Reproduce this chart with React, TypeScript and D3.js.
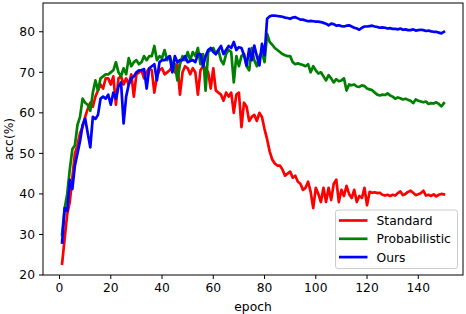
import React from 'react';
import * as d3 from 'd3';

// accuracy per epoch (1..150)
const standard = [
  22.8, 29, 35, 38, 44, 50, 52, 55, 56.5, 59, 61, 62.5, 61.5, 64, 65.5, 67, 66, 68.5, 68.5, 67,
  69, 62, 68.5, 69, 67, 68.5, 67, 69.5, 64, 69.5, 70, 70.5, 68.5, 70, 71, 70.5, 65, 69, 70.5, 71,
  69.5, 70, 70.5, 71.5, 70, 72, 64.5, 70, 71.5, 71, 69.5, 71, 70, 64.5, 70.5, 71.5, 71, 70, 66, 71,
  65.5, 65, 64.5, 63, 65, 64, 65, 60, 64.5, 65, 56.5, 62.5, 61.5, 58, 59, 59.5, 58, 60, 59, 56,
  53.5, 50.5, 48.5, 47.5, 47, 47, 46, 44.5, 45, 45.5, 44, 44.5, 43, 42.5, 41, 41.5, 43, 40.5, 36.5, 41.5,
  40, 38, 41.5, 38, 41.5, 38.5, 42.5, 43.5, 38, 41, 39.5, 42, 40, 39, 41, 38, 39.5, 39, 41.5, 37.2,
  40.5, 40.3, 40.4, 40.2, 40.3, 39.8, 39.6, 39.8, 39.5, 39.8, 39.6, 40.2, 40.6, 39.7, 40, 40.5, 40.8, 40.3, 39.7, 39.9,
  40.2, 40.8, 39.6, 39.8, 39.5, 39.9, 39.4, 39.8, 40, 39.9,
];

const probabilistic = [
  30, 36.5, 40, 46, 51, 52, 57, 59, 63.5, 62.5, 62, 60.5, 65, 68, 65.5, 68.5, 69, 69.5, 69.5, 70,
  70.5, 72.5, 70, 69, 71, 69.5, 73.5, 71.5, 72.5, 73, 72, 72.5, 74, 73, 74, 74, 76.5, 73, 74, 73.5,
  75.5, 73, 74, 72, 72, 68, 72, 74, 73, 75, 73, 75, 74, 76, 72, 74.5, 65.5, 75, 75.5, 76,
  74.5, 75.5, 73, 72, 74.5, 75.5, 75, 67.5, 74, 71.5, 74, 74.5, 71.5, 70.5, 76, 73, 71.5, 74, 75, 72.5,
  79.5, 77.5, 76.8, 76, 75.5, 75, 74.5, 74.2, 74, 74, 72.5, 72, 72.2, 72, 71.8, 71.5, 72, 70, 71.5, 70.5,
  69.7, 70, 69, 68, 69.3, 68.5, 67.5, 68.3, 67.8, 68, 68.5, 65.5, 67, 66.8, 67, 66.5, 66.4, 66.8, 66.6, 66,
  65.8, 65.6, 65, 64.5, 64.3, 64.5, 64.4, 64.8, 64.3, 64, 63.5, 63.8, 63.6, 63.3, 63.5, 63.2, 63, 62.4, 63.3, 63,
  62.8, 62.6, 62.8, 62.2, 62.4, 62.3, 62.6, 62.2, 61.6, 62.4,
];

const ours = [
  28, 36.5, 35.8, 43.5, 41.2, 47, 50, 53, 57, 58.6, 55, 51.5, 59, 58.5, 59.5, 63.5, 64, 63.5, 64.5, 62,
  65, 63.5, 66.5, 67.5, 57.4, 64, 67, 68.5, 69, 70, 70.5, 70.5, 70.8, 66, 71, 71.5, 72, 68, 72.5, 73,
  73, 73.5, 74, 70, 74, 72.5, 73, 73, 74, 72.5, 72.8, 73, 72.5, 74.5, 74.5, 71.5, 74, 75.5, 76, 75,
  74.5, 75.5, 76.5, 74.5, 75.5, 76.5, 76, 77.5, 75.5, 76.2, 76, 74.2, 71.7, 75.8, 73, 76.6, 74, 71.7, 77, 74.2,
  83.2, 83.8, 84, 84, 83.9, 83.8, 83.7, 83.5, 83.4, 83.2, 83.5, 83.6, 83.3, 83, 83, 82.8, 82.6, 82.7, 82.6, 82.5,
  82.5, 82.4, 82.2, 82, 81.6, 82, 81.9, 81.5, 81.6, 81.4, 81.3, 81.5, 81.6, 81.3, 81, 80.8, 80.5, 81, 81.3, 81.3,
  81.4, 81.5, 81.3, 81.2, 81, 81.1, 81, 80.8, 80.9, 80.7, 80.7, 80.6, 80.8, 80.5, 80.6, 80.4, 80.4, 80.6, 80.3, 80.4,
  80.5, 80.4, 80.2, 80.3, 80.1, 80, 80, 79.8, 79.6, 80,
];

const xTicks = [0, 20, 40, 60, 80, 100, 120, 140];
const yTicks = [20, 30, 40, 50, 60, 70, 80];

const seriesNames = ['Standard', 'Probabilistic', 'Ours'];
const seriesColors = ['#ff0000', '#008000', '#0000ff'];
const seriesData = [standard, probabilistic, ours];

const W = 466;
const H = 314;
const margin = { left: 43, right: 3, top: 3, bottom: 39 };
const font = 'DejaVu Sans, sans-serif';
const fs = 12.3;

const App: React.FC = () => {
  const plotW = W - margin.left - margin.right;
  const plotH = H - margin.top - margin.bottom;

  const x = d3.scaleLinear().domain([-6.45, 157.45]).range([0, plotW]);
  const y = d3.scaleLinear().domain([20, 87.1]).range([plotH, 0]);

  const line = d3.line<number>()
    .x((_, i) => x(i + 1))
    .y(d => y(d));

  const legendX = 335.5 - margin.left;
  const legendY = 210 - margin.top;

  return (
    <svg width={W} height={H} style={{ position: 'absolute', left: 0, top: 0 }} fontFamily={font}>
      <rect width={W} height={H} fill="#fff" />
      <g transform={`translate(${margin.left},${margin.top})`}>
        {seriesData.map((d, i) => (
          <path key={seriesNames[i]} d={line(d) ?? ''} fill="none" stroke={seriesColors[i]}
            strokeWidth={2.7} strokeLinejoin="round" strokeLinecap="square" />
        ))}

        <rect x={0} y={0} width={plotW} height={plotH} fill="none" stroke="#000" strokeWidth={1} />

        {xTicks.map(t => (
          <g key={t} transform={`translate(${x(t)},${plotH})`}>
            <line y2={4} stroke="#000" strokeWidth={1} />
            <text y={8} dy="0.71em" textAnchor="middle" fontSize={fs} fill="#000">{t}</text>
          </g>
        ))}
        {yTicks.map(t => (
          <g key={t} transform={`translate(0,${y(t)})`}>
            <line x2={-4} stroke="#000" strokeWidth={1} />
            <text x={-8} dy="0.36em" textAnchor="end" fontSize={fs} fill="#000">{t}</text>
          </g>
        ))}

        <text x={plotW / 2} y={plotH + 36} textAnchor="middle" fontSize={fs}>epoch</text>
        <text transform={`translate(${-30},${plotH / 2}) rotate(-90)`} textAnchor="middle" fontSize={fs}>acc(%)</text>

        <g transform={`translate(${legendX},${legendY})`}>
          <rect width={122} height={58.5} rx={2.5} fill="#fff" fillOpacity={0.8} stroke="#cccccc" strokeWidth={1} />
          {seriesNames.map((name, i) => (
            <g key={name} transform={`translate(0,${10.5 + i * 18.3})`}>
              <line x1={3.5} x2={32} stroke={seriesColors[i]} strokeWidth={2.7} />
              <text x={41} dy="0.36em" fontSize={fs} fill="#000">{name}</text>
            </g>
          ))}
        </g>
      </g>
    </svg>
  );
};

export default App;
